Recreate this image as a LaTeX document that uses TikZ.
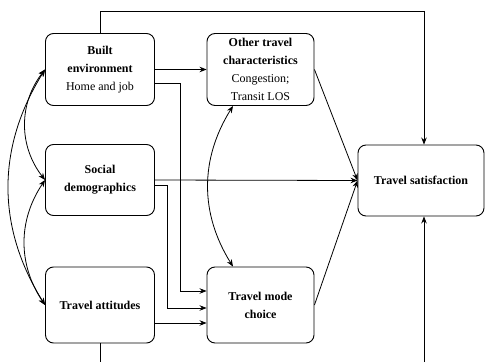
\documentclass[tikz,border=0pt]{standalone}
\usepackage{fontspec}
\setmainfont{Liberation Serif}
\usetikzlibrary{arrows.meta,positioning}

\tikzset{
  factor/.style={draw, rounded corners=8pt, align=center, line width=0.9pt,
    font=\fontsize{12}{18}\selectfont, inner sep=2pt},
  path/.style={-{Stealth[length=7pt,width=5.5pt]}, line width=0.8pt},
  corr/.style={{Stealth[length=7pt,width=5.5pt]}-{Stealth[length=7pt,width=5.5pt]}, line width=0.8pt},
}

\begin{document}
\begin{tikzpicture}[x=1pt,y=1pt]
  \useasboundingbox (0,0) rectangle (485,362);

  % left column
  \node[factor, minimum width=109, minimum height=72] (built) at (100,292.5)
    {\textbf{Built}\\\textbf{environment}\\Home and job};
  \node[factor, minimum width=109, minimum height=71] (social) at (100,182)
    {\textbf{Social}\\\textbf{demographics}};
  \node[factor, minimum width=109, minimum height=76] (attitude) at (100,57)
    {\textbf{Travel attitudes}};

  % middle column
  \node[factor, minimum width=107, minimum height=72] (other) at (260.5,292.5)
    {\textbf{Other travel}\\\textbf{characteristics}\\Congestion;\\Transit LOS};
  \node[factor, minimum width=107, minimum height=76] (mode) at (260.5,57)
    {\textbf{Travel mode}\\\textbf{choice}};

  % outcome
  \node[factor, minimum width=126, minimum height=71] (sat) at (421,181.5)
    {\textbf{Travel satisfaction}};

  %% helper points for the long lines round the outside
  \coordinate (topR) at (424,351);
  \coordinate (botL) at (100,0);
  \coordinate (botR) at (424,0);

  \draw[line width=0.8pt] (built.north) |- (topR);
  \draw[path] (topR) -- (topR |- sat.north);
  \draw[line width=0.8pt] (attitude.south) -- (botL);
  \draw[path] (botR) -- (botR |- sat.south);

  % direct paths
  \draw[path] (built.east) -- (other.west);
  \draw[path] (built.east |- 0,279) -| (180,71) -- (mode.west |- 0,71);
  \draw[path] (social.east) -- (sat.west);
  \draw[path] (social.east |- 0,177) -| (167,54) -- (mode.west |- 0,54);
  \draw[path] (attitude.east |- 0,39) -- (mode.west |- 0,39);
  \draw[path] (other.east) -- (sat.west);
  \draw[path] (mode.east) -- (sat.west);

  % correlations
  \draw[corr] (other.south -| 233,0) to[bend right=32] (mode.north -| 233,0);
  \draw[corr] (built.west) to[bend right=38] (social.west);
  \draw[corr] (social.west) to[bend right=34] (attitude.west);
  \draw[corr] (built.west) to[bend right=32] (attitude.west);
\end{tikzpicture}
\end{document}
